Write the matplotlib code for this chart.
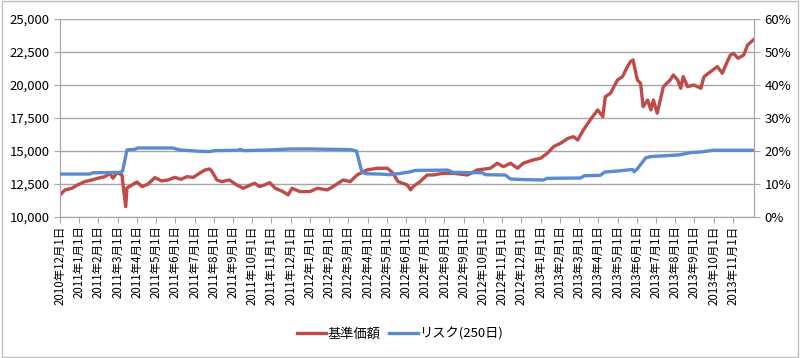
import numpy as np
import pandas as pd
import matplotlib
matplotlib.use('Agg')
import matplotlib.pyplot as plt
from matplotlib.ticker import FuncFormatter, PercentFormatter

plt.rcParams['font.family'] = ['Noto Sans CJK JP', 'DejaVu Sans']

# 基準価額
nav_dates = [
    '2010-12-01', '2010-12-09', '2010-12-20', '2010-12-29', '2011-01-10', '2011-01-21',
    '2011-01-31', '2011-02-10', '2011-02-18', '2011-02-22', '2011-02-28', '2011-03-08',
    '2011-03-09', '2011-03-14', '2011-03-16', '2011-03-24', '2011-04-01', '2011-04-09',
    '2011-04-18', '2011-04-29', '2011-05-10', '2011-05-20', '2011-05-31', '2011-06-10',
    '2011-06-19', '2011-06-29', '2011-07-09', '2011-07-18', '2011-07-25', '2011-07-29',
    '2011-08-06', '2011-08-14', '2011-08-26', '2011-09-07', '2011-09-17', '2011-09-28',
    '2011-10-05', '2011-10-13', '2011-10-22', '2011-10-29', '2011-11-07', '2011-11-19',
    '2011-11-27', '2011-12-03', '2011-12-16', '2012-01-01', '2012-01-13', '2012-01-29',
    '2012-02-07', '2012-02-22', '2012-03-04', '2012-03-15', '2012-03-31', '2012-04-16',
    '2012-05-02', '2012-05-11', '2012-05-19', '2012-06-03', '2012-06-08', '2012-06-12',
    '2012-06-23', '2012-07-04', '2012-07-14', '2012-07-30', '2012-08-15', '2012-09-07',
    '2012-09-22', '2012-10-13', '2012-10-24', '2012-11-03', '2012-11-14', '2012-11-25',
    '2012-12-04', '2012-12-20', '2013-01-01', '2013-01-12', '2013-01-22', '2013-02-02',
    '2013-02-13', '2013-02-21', '2013-02-27', '2013-03-08', '2013-03-19', '2013-03-31',
    '2013-04-04', '2013-04-08', '2013-04-12', '2013-04-20', '2013-05-01', '2013-05-09',
    '2013-05-17', '2013-05-22', '2013-05-26', '2013-06-02', '2013-06-07', '2013-06-11',
    '2013-06-18', '2013-06-23', '2013-06-27', '2013-07-03', '2013-07-13', '2013-07-24',
    '2013-07-29', '2013-08-05', '2013-08-10', '2013-08-14', '2013-08-21', '2013-08-31',
    '2013-09-11', '2013-09-16', '2013-09-26', '2013-10-07', '2013-10-15', '2013-10-23',
    '2013-10-28', '2013-11-02', '2013-11-09', '2013-11-18', '2013-11-24', '2013-12-03',
]
nav_values = [
    11670, 12045, 12170, 12420, 12680, 12800,
    12930, 13050, 13300, 12930, 13350, 13180,
    12680, 10780, 12200, 12420, 12650, 12300,
    12480, 12980, 12730, 12800, 13000, 12850,
    13050, 13000, 13310, 13560, 13640, 13450,
    12800, 12680, 12800, 12420, 12170, 12420,
    12550, 12300, 12450, 12600, 12170, 11920,
    11670, 12170, 11920, 11920, 12170, 12050,
    12300, 12800, 12680, 13180, 13560, 13690,
    13690, 13310, 12680, 12420, 12050, 12300,
    12680, 13180, 13180, 13310, 13310, 13180,
    13560, 13690, 14070, 13810, 14070, 13690,
    14070, 14320, 14450, 14830, 15330, 15580,
    15960, 16080, 15830, 16590, 17350, 18110,
    17860, 17600, 19110, 19370, 20380, 20630,
    21390, 21770, 21900, 20380, 20120, 18360,
    18860, 18110, 18860, 17860, 19870, 20380,
    20760, 20380, 19750, 20630, 19870, 20000,
    19750, 20630, 21000, 21390, 20890, 21770,
    22270, 22400, 22020, 22270, 23030, 23410,
]

# リスク(250日), in %
risk_dates = [
    '2010-12-01', '2011-01-18', '2011-01-23', '2011-03-06', '2011-03-09', '2011-03-16',
    '2011-03-29', '2011-04-02', '2011-05-28', '2011-06-08', '2011-07-09', '2011-07-25',
    '2011-08-03', '2011-09-09', '2011-09-12', '2011-09-18', '2011-10-29', '2011-11-30',
    '2012-01-01', '2012-03-04', '2012-03-14', '2012-03-23', '2012-03-30', '2012-04-21',
    '2012-05-06', '2012-05-23', '2012-06-08', '2012-06-15', '2012-08-06', '2012-08-15',
    '2012-09-30', '2012-10-05', '2012-11-06', '2012-11-14', '2012-12-08', '2013-01-06',
    '2013-01-11', '2013-03-03', '2013-03-10', '2013-04-04', '2013-04-11', '2013-05-06',
    '2013-05-25', '2013-05-28', '2013-06-02', '2013-06-15', '2013-06-23', '2013-08-07',
    '2013-08-26', '2013-09-11', '2013-09-30', '2013-12-03',
]
risk_values = [
    13.0, 13.0, 13.4, 13.5, 14.0, 20.3,
    20.5, 20.9, 20.9, 20.3, 19.9, 19.8,
    20.1, 20.2, 20.5, 20.1, 20.3, 20.6,
    20.6, 20.4, 20.0, 13.5, 13.1, 13.0,
    12.8, 13.2, 13.7, 14.1, 14.2, 13.5,
    13.4, 12.8, 12.7, 11.5, 11.3, 11.2,
    11.7, 11.8, 12.5, 12.6, 13.6, 14.0,
    14.4, 13.7, 14.6, 17.9, 18.3, 18.8,
    19.5, 19.7, 20.2, 20.2,
]

tick_months = pd.date_range('2010-12-01', '2013-11-01', freq='MS')
tick_labels = [f'{d.year}年{d.month}月{d.day}日' for d in tick_months]


def month_pos(dates):
    # each month gets the same width on the axis
    d = pd.to_datetime(pd.Series(dates))
    return ((d.dt.year - 2010) * 12 + (d.dt.month - 12)
            + (d.dt.day - 1) / d.dt.days_in_month).to_numpy()


red = '#BE4B48'
blue = '#5A8AD0'
grey = '#A6A6A6'

fig = plt.figure(figsize=(8, 3.58), dpi=100)
fig.patches.append(plt.Rectangle((0.003, 0.004), 0.994, 0.992, transform=fig.transFigure,
                                 fill=False, edgecolor='#BFBFBF', linewidth=1))
ax = fig.add_axes([0.075, 0.394, 0.8675, 0.553])
ax2 = ax.twinx()

ax.plot(month_pos(nav_dates), nav_values, color=red, lw=2.4, label='基準価額', zorder=3)
ax2.plot(month_pos(risk_dates), np.array(risk_values) / 100, color=blue, lw=2.4,
         label='リスク(250日)', zorder=3)

ax.set_xlim(0, 36.1)
ax.set_ylim(10000, 25000)
ax.set_yticks(np.arange(10000, 25001, 2500))
ax.yaxis.set_major_formatter(FuncFormatter(lambda v, p: f'{v:,.0f}'))
ax2.set_ylim(0, 0.6)
ax2.set_yticks(np.arange(0, 0.61, 0.1))
ax2.yaxis.set_major_formatter(PercentFormatter(1.0, decimals=0))

ax.set_xticks(month_pos(tick_months))
ax.set_xticklabels(tick_labels, rotation=90, fontsize=8.3)
ax.grid(axis='y', color=grey, lw=1)
ax.set_axisbelow(True)

for a in (ax, ax2):
    a.spines['top'].set_visible(False)
    for s in ('left', 'right', 'bottom'):
        a.spines[s].set_color(grey)
    a.tick_params(color=grey, length=4, labelsize=9.5)
ax.tick_params(axis='x', labelsize=8.3, pad=2)

h1, l1 = ax.get_legend_handles_labels()
h2, l2 = ax2.get_legend_handles_labels()
fig.legend(h1 + h2, l1 + l2, loc='center', bbox_to_anchor=(0.5, 0.067), ncol=2,
           frameon=False, fontsize=9.5, handlelength=2.2, columnspacing=0.6, handletextpad=0.1)

fig.savefig('out.png', dpi=100)
